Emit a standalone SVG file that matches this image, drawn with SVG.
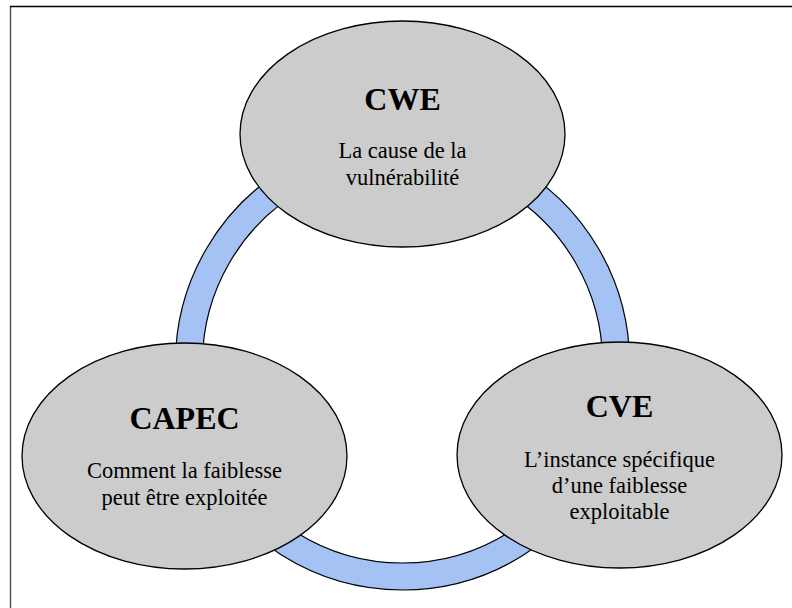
<svg xmlns="http://www.w3.org/2000/svg" width="792" height="608" viewBox="0 0 792 608">
<style>
.node{fill:#cccccc;stroke:#000;stroke-width:1.3}
.ring{fill:#a4c2f4;stroke:#000;stroke-width:1.2;fill-rule:evenodd}
.title{font-family:"Liberation Serif","Times New Roman",serif;font-weight:bold;font-size:32px;text-anchor:middle;fill:#000}
.sub{font-family:"Liberation Serif","Times New Roman",serif;font-size:22.5px;text-anchor:middle;fill:#000}
</style>
<rect x="0" y="0" width="792" height="608" fill="#fff"/>
<path d="M10.5 608 V6.5" fill="none" stroke="#555" stroke-width="1.5"/>
<path d="M10 6.5 H792" fill="none" stroke="#000" stroke-width="1.5"/>
<g id="connectors">
<path class="ring" d="M402.5 136 a227 227 0 1 0 0.01 0 Z M402.5 163 a200 200 0 1 0 0.01 0 Z"/>
</g>
<g id="cwe">
<ellipse class="node" cx="402.5" cy="134" rx="162.5" ry="113"/>
<text class="title" x="402.5" y="110">CWE</text>
<text class="sub" x="402.5" y="158">La cause de la</text>
<text class="sub" x="402.5" y="185">vulnérabilité</text>
</g>
<g id="capec">
<ellipse class="node" cx="184.5" cy="456" rx="162.5" ry="113"/>
<text class="title" x="184.5" y="429">CAPEC</text>
<text class="sub" x="184.5" y="478">Comment la faiblesse</text>
<text class="sub" x="184.5" y="505">peut être exploitée</text>
</g>
<g id="cve">
<ellipse class="node" cx="619.5" cy="455" rx="162.5" ry="113"/>
<text class="title" x="619.5" y="417">CVE</text>
<text class="sub" x="619.5" y="467">L’instance spécifique</text>
<text class="sub" x="619.5" y="493">d’une faiblesse</text>
<text class="sub" x="619.5" y="519">exploitable</text>
</g>
</svg>
